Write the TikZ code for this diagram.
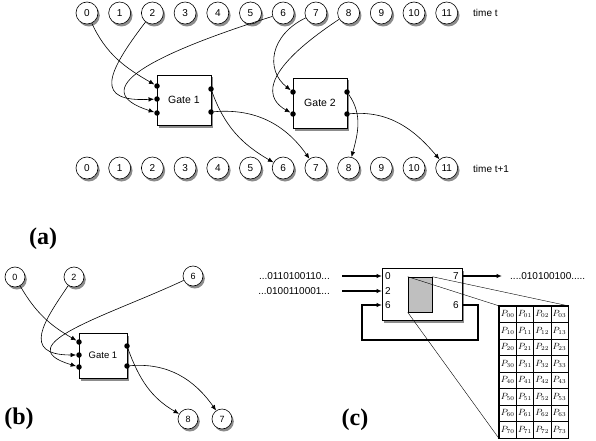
\documentclass[tikz,border=0pt]{standalone}
\usepackage{fontspec}
\setmainfont{Liberation Sans}
\newfontfamily\panelfont{Liberation Serif}
\usetikzlibrary{arrows.meta,shadows}

\begin{document}
\begin{tikzpicture}[x=1pt,y=1pt,>={Latex[length=5.5pt,width=4.5pt]}]
    \tikzstyle{shade}=[drop shadow={shadow xshift=1.8pt,shadow yshift=-2.5pt,fill=black,opacity=0.45}]
    \tikzstyle{bit}=[circle,draw,semithick,fill=white,shade,minimum width=22pt,inner sep=0pt,font=\fontsize{10}{11}\selectfont]
    \tikzstyle{smallbit}=[bit,minimum width=20pt,font=\fontsize{9}{10}\selectfont]
    \tikzstyle{gate}=[draw,semithick,fill=white,shade,minimum width=54pt,minimum height=50pt,font=\fontsize{10.5}{12}\selectfont]
    \tikzstyle{port}=[circle,fill=black,minimum width=5.5pt,inner sep=0pt]
    \tikzstyle{wire}=[->,semithick]
    \tikzstyle{bus}=[->,line width=1.5pt]
    \tikzstyle{txt}=[inner sep=0pt,font=\fontsize{10}{11}\selectfont]
    \tikzstyle{cell}=[draw,minimum width=17.25pt,minimum height=16.5pt,inner sep=0pt,font=\fontsize{9}{9}\selectfont]
    \tikzstyle{panel}=[font=\panelfont\bfseries\fontsize{24}{26}\selectfont]

    \useasboundingbox (0,0) rectangle (596,440);

    % (a) time t and time t+1
    \foreach \i in {0,...,11} {
      \node[bit] (t\i) at (87+32.7*\i,427) {\i};
      \node[bit] (s\i) at (87+32.7*\i,272) {\i};
    }
    \node[txt,anchor=west] (tt) at (473,427) {time t};
    \node[txt,anchor=west] (ts) at (473,271) {time t+1};

    \node[gate] (g1) at (184,340) {Gate 1};
    \node[port] (g1a) at (157,354) {};
    \node[port] (g1b) at (157,341) {};
    \node[port] (g1c) at (157,327) {};
    \node[port] (g1x) at (211,351) {};
    \node[port] (g1y) at (211,328) {};

    \node[gate] (g2) at (320,337) {Gate 2};
    \node[port] (g2a) at (293,348) {};
    \node[port] (g2b) at (293,326) {};
    \node[port] (g2x) at (347,348) {};
    \node[port] (g2y) at (347,326) {};

    \path (t0) edge[wire,out=-65,in=150] (g1a);
    \draw[wire] (t2) .. controls (105,365) and (95,338) .. (g1b);
    \draw[wire] (t6) .. controls (150,385) and (85,350) .. (g1c);
    \path (g1x) edge[wire,out=-70,in=150] (s6);
    \path (g1y) edge[wire,out=5,in=125] (s7);
    \draw[wire] (t7) .. controls (270,405) and (265,370) .. (g2a);
    \draw[wire] (t8) .. controls (255,365) and (268,340) .. (g2b);
    \path (g2x) edge[wire,out=-55,in=75] (s8);
    \path (g2y) edge[wire,out=5,in=130] (s11);

    \node[panel] (la) at (43,201) {(a)};

    % (b) one gate
    \node[smallbit] (b0) at (15,163) {0};
    \node[smallbit] (b2) at (74,163) {2};
    \node[smallbit] (b6) at (193,164) {6};
    \node[smallbit] (b8) at (188,21) {8};
    \node[smallbit] (b7) at (222,21) {7};

    \node[gate,minimum width=48pt,minimum height=45pt,font=\fontsize{9.5}{10}\selectfont] (h1) at (103,84.5) {Gate 1};
    \node[port] (h1a) at (79,98) {};
    \node[port] (h1b) at (79,85) {};
    \node[port] (h1c) at (79,73) {};
    \node[port] (h1x) at (127,94) {};
    \node[port] (h1y) at (127,74) {};

    \path (b0) edge[wire,out=-60,in=150] (h1a);
    \draw[wire] (b2) .. controls (45,120) and (20,85) .. (h1b);
    \draw[wire] (b6) .. controls (110,125) and (5,95) .. (h1c);
    \path (h1x) edge[wire,out=-70,in=150] (b8);
    \path (h1y) edge[wire,out=5,in=125] (b7);

    \node[panel] (lb) at (19,21) {(b)};

    % (c) gate as lookup table
    \node[gate,minimum width=80pt,minimum height=52pt] (mem) at (422,146) {};
    \node[draw,semithick,fill=black!25,minimum width=24pt,minimum height=35pt,inner sep=0pt] (lut) at (420,145.5) {};
    \node[txt,anchor=west] (c0) at (385,164) {0};
    \node[txt,anchor=west] (c2) at (385,149) {2};
    \node[txt,anchor=west] (c6) at (385,135) {6};
    \node[txt,anchor=east] (c7) at (459,164) {7};
    \node[txt,anchor=east] (d6) at (459,135) {6};

    \node[txt,anchor=east] (in1) at (330,164) {...0110100110...};
    \node[txt,anchor=east] (in2) at (330,149) {...0100110001...};
    \node[txt,anchor=west] (out) at (510,164) {....010100100.....};
    \coordinate (loopr) at (478,100);
    \coordinate (loopl) at (362,100);

    \draw[bus,shorten <=12pt,shorten >=3pt] (in1) -- (c0);
    \draw[bus,shorten <=12pt,shorten >=3pt] (in2) -- (c2);
    \draw[bus,shorten <=3pt,shorten >=8pt] (c7) -- (out);
    \draw[bus,shorten <=3pt,shorten >=3pt] (d6) -| (loopr) -- (loopl) |- (c6);

    \foreach \r in {0,...,7}
      \foreach \c in {0,...,3}
        \node[cell] (p\r\c) at (499+17.25*\c+8.625,134-16.5*\r-8.25) {$P_{\r\c}$};
    \draw[thick] (p00.north west) rectangle (p73.south east);

    \draw (lut.north west) -- (p00.north west);
    \draw (lut.north east) -- (p03.north east);
    \draw (lut.south west) -- (p70.south west);

    \node[panel] (lc) at (355,20) {(c)};
\end{tikzpicture}
\end{document}
